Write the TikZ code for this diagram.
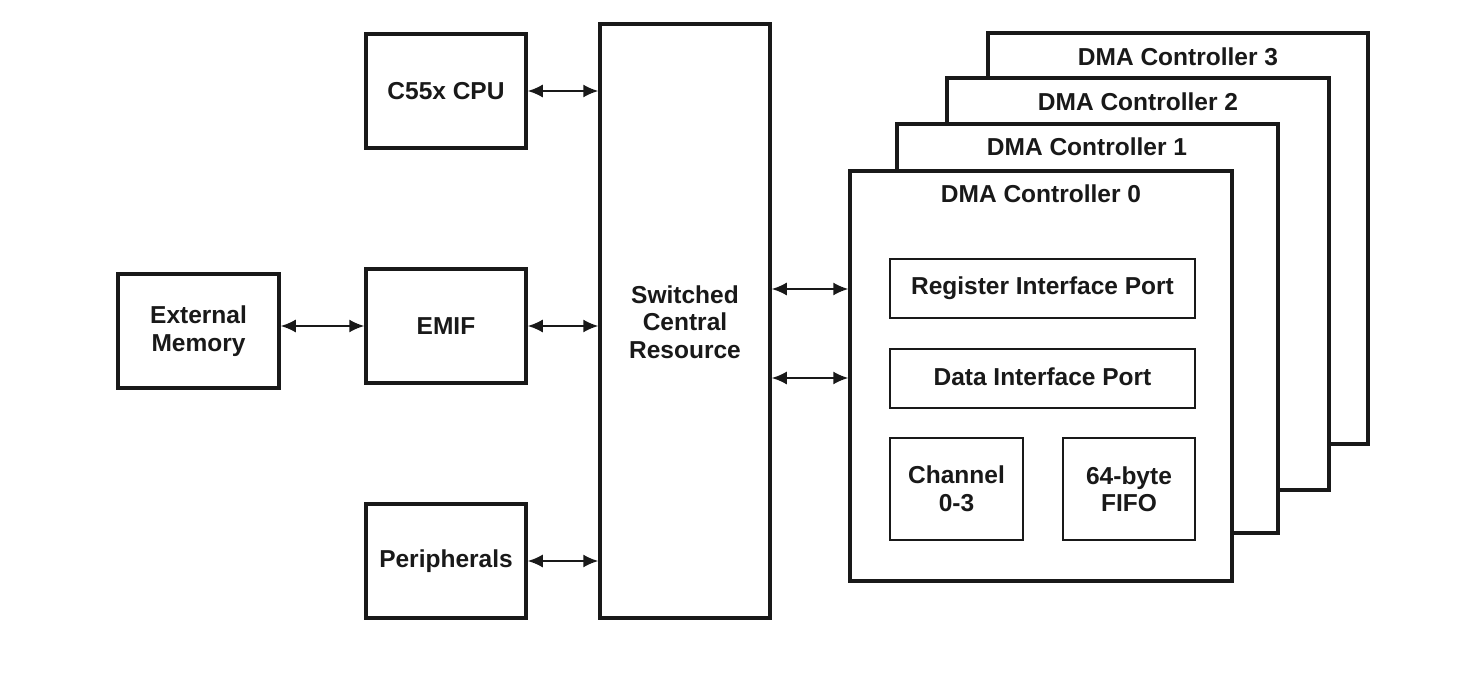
\documentclass[tikz,border=0pt]{standalone}
\usepackage{fontspec}
\setmainfont{Liberation Sans}
\usetikzlibrary{arrows.meta}
\begin{document}
\begin{tikzpicture}[x=1pt,y=-1pt,
  every node/.style={font=\fontsize{24.5}{27.5}\selectfont\bfseries, text=black!90, inner sep=0pt},
  thickbox/.style={draw=black!90, line width=3.5pt, fill=white},
  thinbox/.style={draw=black!90, line width=1.6pt, fill=white},
  conn/.style={line width=1.8pt, draw=black!90, {Latex[length=15pt,width=13pt]}-{Latex[length=15pt,width=13pt]}}]
\useasboundingbox (0,0) rectangle (1484,674);
% left column
\draw[thickbox] (366,34) rectangle (526,148);
\node (cpu) at (446,91) {C55x CPU};
\coordinate (cpuR) at (527.75,91);
\draw[thickbox] (366,269) rectangle (526,383);
\node (emif) at (446,326) {EMIF};
\coordinate (emifR) at (527.75,326);
\coordinate (emifL) at (364.25,326);
\draw[thickbox] (366,504) rectangle (526,618);
\node (per) at (446,561) {Peripherals};
\coordinate (perR) at (527.75,561);
\draw[thickbox] (118,274) rectangle (279,388);
\node[align=center] (ext) at (198.5,331) {External\\Memory};
\coordinate (extR) at (280.75,326);
% switched central resource
\draw[thickbox] (600,24) rectangle (770,618);
\node[align=center] (scr) at (685,322) {Switched\\Central\\Resource};
\coordinate (scrL1) at (598.25,91);
\coordinate (scrL2) at (598.25,326);
\coordinate (scrL3) at (598.25,561);
\coordinate (scrR1) at (771.75,289);
\coordinate (scrR2) at (771.75,378);
% DMA stack
\draw[thickbox] (988,33) rectangle (1368,444);
\node (d3) at (1178,57) {DMA Controller 3};
\draw[thickbox] (947,78) rectangle (1329,490);
\node (d2) at (1138,102) {DMA Controller 2};
\draw[thickbox] (897,124) rectangle (1278,533);
\node (d1) at (1087,147) {DMA Controller 1};
\draw[thickbox] (850,171) rectangle (1232,581);
\node (d0) at (1041,194) {DMA Controller 0};
\coordinate (d0L1) at (848.25,289);
\coordinate (d0L2) at (848.25,378);
% inner boxes
\draw[thinbox] (890,259) rectangle (1195,318);
\node (rip) at (1042.5,288) {Register Interface Port};
\draw[thinbox] (890,349) rectangle (1195,408);
\node (dip) at (1042.5,377) {Data Interface Port};
\draw[thinbox] (890,438) rectangle (1023,540);
\node[align=center] (ch) at (956.5,489) {Channel\\0-3};
\draw[thinbox] (1063,438) rectangle (1195,540);
\node[align=center] (fifo) at (1129,489) {64-byte\\FIFO};
% connectors
\draw[conn] (cpuR) -- (scrL1);
\draw[conn] (emifR) -- (scrL2);
\draw[conn] (perR) -- (scrL3);
\draw[conn] (extR) -- (emifL);
\draw[conn] (scrR1) -- (d0L1);
\draw[conn] (scrR2) -- (d0L2);
\end{tikzpicture}
\end{document}
